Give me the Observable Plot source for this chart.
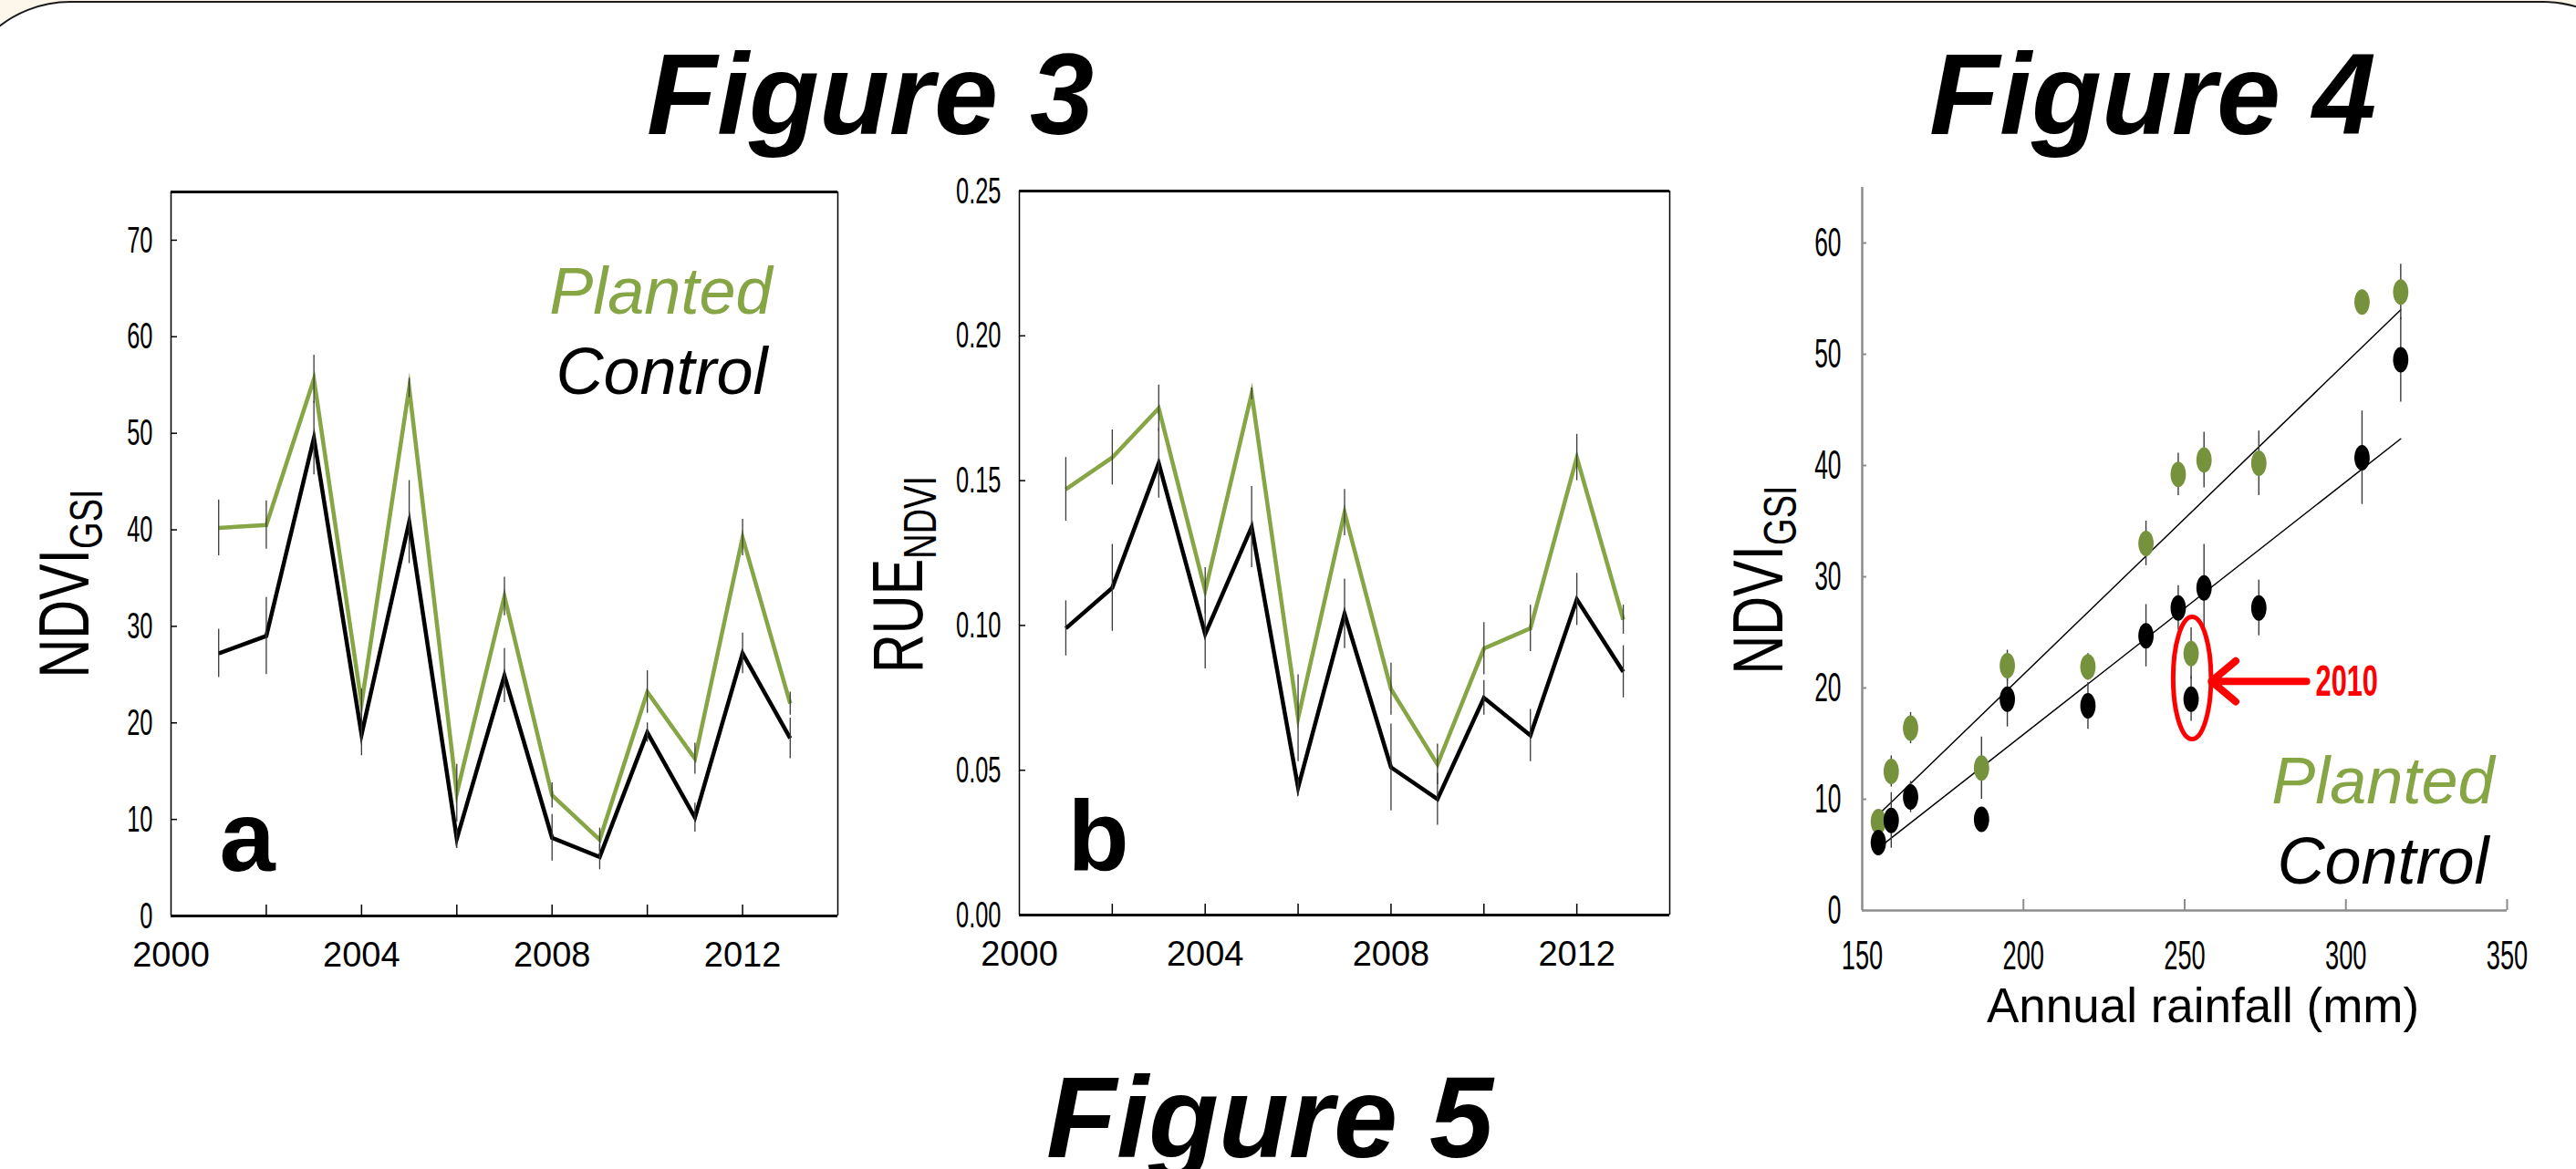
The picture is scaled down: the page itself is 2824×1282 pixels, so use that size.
<!DOCTYPE html>
<html><head><meta charset="utf-8">
<script src="https://cdn.jsdelivr.net/npm/d3@7"></script>
<script src="https://cdn.jsdelivr.net/npm/@observablehq/plot@0.6"></script>
<style>
html,body{margin:0;padding:0;}
body{width:2824px;height:1282px;overflow:hidden;position:relative;background:#fdf6ea;font-family:'Liberation Sans',Arial,Helvetica,sans-serif;}
#sheet{position:absolute;left:-50px;top:1px;width:2961px;height:1600px;border:2px solid #1a1a1a;border-radius:127px;background:#fff;}
.abs{position:absolute;white-space:nowrap;line-height:1;}
</style></head><body>
<div id="sheet"></div>
<script>
// ---------- data ----------
const years = [2001, 2002, 2003, 2004, 2005, 2006, 2007, 2008, 2009, 2010, 2011, 2012, 2013];
const ndviPlanted    = [40.2, 40.5, 55.6, 22.0, 54.7, 12.7, 33.1, 12.5, 7.9, 23.2, 16.3, 39.2, 22.0];
const ndviPlantedErr = [2.9, 2.5, 2.5, 1.5, 1.0, 3.0, 2.0, 1.3, 1.2, 2.2, 1.6, 1.9, 1.2];
const ndviControl    = [27.2, 29.0, 49.5, 18.8, 40.8, 8.0, 24.9, 8.1, 6.1, 19.0, 10.2, 27.2, 18.4];
const ndviControlErr = [2.5, 4.0, 3.8, 2.2, 4.3, 1.0, 2.8, 2.4, 1.3, 1.0, 1.5, 2.1, 2.1];

const ruePlanted    = [0.147, 0.158, 0.175, 0.112, 0.180, 0.068, 0.139, 0.078, 0.052, 0.092, 0.099, 0.158, 0.102];
const ruePlantedErr = [0.011, 0.0095, 0.008, 0.008, 0.002, 0.015, 0.008, 0.009, 0.007, 0.009, 0.008, 0.008, 0.005];
const rueControl    = [0.099, 0.113, 0.156, 0.097, 0.134, 0.044, 0.104, 0.051, 0.040, 0.075, 0.062, 0.109, 0.084];
const rueControlErr = [0.0095, 0.015, 0.012, 0.012, 0.014, 0.003, 0.012, 0.015, 0.009, 0.006, 0.009, 0.009, 0.009];

const rainfall        = [155, 159, 165, 187, 195, 220, 238, 248, 252, 256, 273, 305, 317];
const rainPlanted     = [8.0, 12.5, 16.4, 12.8, 22.0, 21.9, 33.0, 39.2, 23.1, 40.5, 40.2, 54.7, 55.6];
const rainPlantedErr  = [0.8, 1.4, 1.4, 2.8, 1.4, 1.2, 2.0, 1.9, 2.3, 2.5, 2.9, 0.8, 2.5];
const rainControl     = [6.1, 8.1, 10.2, 8.2, 19.0, 18.4, 24.7, 27.2, 19.0, 29.0, 27.2, 40.7, 49.5];
const rainControlErr  = [1.0, 2.5, 1.4, 0.5, 2.5, 2.1, 2.8, 2.0, 2.0, 3.9, 2.5, 4.2, 3.8];
const fitRain    = [155, 317];
const fitPlanted = [8.6, 54.0];
const fitControl = [5.6, 42.4];

const noteLabel = ["2010"];
const noteRain = [252.3];
const noteNdvi = [20.9];
const arrowFromRain = [287.8];
const arrowToRain = [258.3];
const arrowNdvi = [20.6];

const seriesNames = ["Planted", "Control"];
const yearLabelTicks = [2000, 2004, 2008, 2012];
const yearMarkTicks = [2002, 2004, 2006, 2008, 2010, 2012];
const ndviTicks = [0, 10, 20, 30, 40, 50, 60, 70];
const rueTicks = [0, 0.05, 0.10, 0.15, 0.20, 0.25];
const rainTicks = [150, 200, 250, 300, 350];
const fig4Ticks = [0, 10, 20, 30, 40, 50, 60];

// ---------- helpers ----------
const FONT = "'Liberation Sans', Arial, Helvetica, sans-serif";
const GREEN = "#86a545";
const GREEN_DOT = "#76923c";
const ERR = "#3a3a3a";
const GRAY = "#8c8c8c";

function box(f, m) {
  return {width: f.R - f.L + m.l + m.r, height: f.B - f.T + m.t + m.b,
    marginLeft: m.l, marginRight: m.r, marginTop: m.t, marginBottom: m.b,
    left: f.L - m.l, top: f.T - m.t};
}
function place(svg, b) {
  svg.style.position = "absolute";
  svg.style.left = b.left + "px";
  svg.style.top = b.top + "px";
  document.body.appendChild(svg);
}
function condense(svg, label, sx) {
  svg.querySelectorAll(`g[aria-label="${label}"] text`).forEach(t => {
    t.setAttribute("transform", (t.getAttribute("transform") || "") + ` scale(${sx},1)`);
  });
}
function condenseText(svg, content, sx) {
  svg.querySelectorAll("text").forEach(t => {
    if (t.textContent === content) t.setAttribute("transform", (t.getAttribute("transform") || "") + ` scale(${sx},1)`);
  });
}
function addText(html, o) {
  const d = document.createElement("div");
  d.className = "abs";
  d.innerHTML = html;
  d.style.fontSize = o.size + "px";
  d.style.fontWeight = o.weight || "normal";
  d.style.fontStyle = o.style || "normal";
  d.style.color = o.color || "#000";
  d.style.top = (o.baseline - 0.8465 * o.size) + "px";
  d.style.left = o.x + "px";
  d.style.transform = "translateX(-50%)";
  document.body.appendChild(d);
}
function addRotated(main, sub, o) {
  const d = document.createElement("div");
  d.className = "abs";
  d.style.fontSize = o.size + "px";
  d.style.left = o.cx + "px";
  d.style.top = o.cy + "px";
  d.style.transform = `translate(-50%,-50%) rotate(-90deg) scaleX(${o.sx})`;
  d.innerHTML = `${main}<span style="font-size:${o.sub}px;position:relative;top:${o.drop}px">${sub}</span>`;
  document.body.appendChild(d);
}
function ellipseSymbol(ratio) {
  return {draw(ctx, size) {
    const ry = Math.sqrt(size / Math.PI), rx = ry * ratio, k = 0.5523;
    ctx.moveTo(rx, 0);
    ctx.bezierCurveTo(rx, ry * k, rx * k, ry, 0, ry);
    ctx.bezierCurveTo(-rx * k, ry, -rx, ry * k, -rx, 0);
    ctx.bezierCurveTo(-rx, -ry * k, -rx * k, -ry, 0, -ry);
    ctx.bezierCurveTo(rx * k, -ry, rx, -ry * k, rx, 0);
    ctx.closePath();
  }};
}
const style = {fontFamily: FONT, fontSize: "36px", color: "#000", background: "transparent", overflow: "visible"};

function timePanel(frame, values, yDomain, yTicks, yFmt, letter, extra) {
  const b = box(frame, {l: 150, r: 30, t: 20, b: 90});
  const [p, pe, c, ce] = values;
  const planted = years.map((yr, i) => ({year: yr, v: p[i], e: pe[i]}));
  const control = years.map((yr, i) => ({year: yr, v: c[i], e: ce[i]}));
  const svg = Plot.plot({
    width: b.width, height: b.height,
    marginLeft: b.marginLeft, marginRight: b.marginRight, marginTop: b.marginTop, marginBottom: b.marginBottom,
    style,
    x: {domain: [2000, 2014], label: null},
    y: {domain: yDomain, label: null},
    marks: [
      Plot.axisX(yearLabelTicks, {tickSize: 0, tickPadding: 29, fontSize: 38, tickFormat: d => String(d)}),
      Plot.axisX(yearMarkTicks, {tickSize: 12, dy: -12, tickFormat: () => "", strokeWidth: 1.5}),
      Plot.axisY(yTicks, {tickSize: 0, tickPadding: 20, fontSize: 41, tickFormat: yFmt}),
      Plot.axisY(yTicks, {tickSize: 7, dx: 7, tickFormat: () => "", strokeWidth: 1.5}),
      Plot.ruleX([2000, 2014], {stroke: "#000", strokeWidth: 1.5}),
      Plot.ruleY(yDomain, {stroke: "#000", strokeWidth: 3}),
      Plot.line(planted, {x: "year", y: "v", stroke: GREEN, strokeWidth: 4.5, strokeLinejoin: "miter", strokeMiterlimit: 10, strokeLinecap: "butt"}),
      Plot.line(control, {x: "year", y: "v", stroke: "#000", strokeWidth: 4.5, strokeLinejoin: "miter", strokeMiterlimit: 10, strokeLinecap: "butt"}),
      Plot.ruleX(planted, {x: "year", y1: d => d.v - d.e, y2: d => d.v + d.e, stroke: ERR, strokeWidth: 1.3}),
      Plot.ruleX(control, {x: "year", y1: d => d.v - d.e, y2: d => d.v + d.e, stroke: ERR, strokeWidth: 1.3}),
      Plot.text([letter], {frameAnchor: "bottom-left", textAnchor: "start", lineAnchor: "bottom", dx: 53, dy: -50, fontSize: 110, fontWeight: "bold", fill: "#000"}),
      ...extra
    ]
  });
  condense(svg, "y-axis tick label", 0.62);
  place(svg, b);
  return svg;
}

// ---------- panel a ----------
timePanel({L: 187, T: 210, R: 918, B: 1004},
  [ndviPlanted, ndviPlantedErr, ndviControl, ndviControlErr], [0, 75], ndviTicks, d => String(d), "a",
  [
    Plot.text([seriesNames[0]], {frameAnchor: "top-right", textAnchor: "end", lineAnchor: "bottom", dx: -72, dy: 133, fontSize: 72, fontStyle: "italic", fill: GREEN}),
    Plot.text([seriesNames[1]], {frameAnchor: "top-right", textAnchor: "end", lineAnchor: "bottom", dx: -77, dy: 221, fontSize: 72, fontStyle: "italic", fill: "#000"})
  ]);

// ---------- panel b ----------
timePanel({L: 1117, T: 209, R: 1830, B: 1003},
  [ruePlanted, ruePlantedErr, rueControl, rueControlErr], [0, 0.25], rueTicks, d3.format(".2f"), "b", []);

// ---------- panel c (Figure 4) ----------
(function () {
  const frame = {L: 2041, T: 205, R: 2748, B: 998};
  const b = box(frame, {l: 160, r: 40, t: 20, b: 150});
  const planted = rainfall.map((r, i) => ({rain: r, v: rainPlanted[i], e: rainPlantedErr[i]}));
  const control = rainfall.map((r, i) => ({rain: r, v: rainControl[i], e: rainControlErr[i]}));
  const fitP = fitRain.map((r, i) => ({rain: r, v: fitPlanted[i]}));
  const fitC = fitRain.map((r, i) => ({rain: r, v: fitControl[i]}));
  const note = noteLabel.map((t, i) => ({label: t, rain: noteRain[i], v: noteNdvi[i], from: arrowFromRain[i], to: arrowToRain[i], y: arrowNdvi[i]}));
  const svg = Plot.plot({
    width: b.width, height: b.height,
    marginLeft: b.marginLeft, marginRight: b.marginRight, marginTop: b.marginTop, marginBottom: b.marginBottom,
    style,
    x: {domain: [150, 350], label: null},
    y: {domain: [0, 65], label: null},
    marks: [
      Plot.axisX(rainTicks, {tickSize: 0, tickPadding: 33, fontSize: 44}),
      Plot.axisX(rainTicks.slice(1), {tickSize: 12, dy: -12, tickFormat: () => "", stroke: GRAY, strokeWidth: 2}),
      Plot.axisY(fig4Ticks, {tickSize: 0, tickPadding: 23, fontSize: 44}),
      Plot.axisY(fig4Ticks.slice(1), {tickSize: 5, dx: 5, tickFormat: () => "", stroke: GRAY, strokeWidth: 2}),
      Plot.ruleY([0], {x1: 150, x2: 350, stroke: GRAY, strokeWidth: 2.5}),
      Plot.ruleX([150], {y1: 0, y2: 65, stroke: GRAY, strokeWidth: 2.5}),
      Plot.line(fitP, {x: "rain", y: "v", stroke: "#000", strokeWidth: 1.5}),
      Plot.line(fitC, {x: "rain", y: "v", stroke: "#000", strokeWidth: 1.5}),
      Plot.ruleX(planted, {x: "rain", y1: d => d.v - d.e, y2: d => d.v + d.e, stroke: ERR, strokeWidth: 1.4}),
      Plot.ruleX(control, {x: "rain", y1: d => d.v - d.e, y2: d => d.v + d.e, stroke: ERR, strokeWidth: 1.4}),
      Plot.dot(planted, {x: "rain", y: "v", r: 14, symbol: ellipseSymbol(0.6), fill: GREEN_DOT, stroke: "none"}),
      Plot.dot(control, {x: "rain", y: "v", r: 14, symbol: ellipseSymbol(0.6), fill: "#000", stroke: "none"}),
      Plot.dot(note, {x: "rain", y: "v", r: 67, symbol: ellipseSymbol(0.31), fill: "none", stroke: "#ff0000", strokeWidth: 5}),
      Plot.arrow(note, {x1: "from", x2: "to", y1: "y", y2: "y", stroke: "#ff0000", strokeWidth: 8, headLength: 30, headAngle: 80}),
      Plot.text(note, {x: "from", y: "y", text: "label", textAnchor: "start", lineAnchor: "middle", dx: 10, fontSize: 48, fontWeight: "bold", fill: "#ff0000"}),
      Plot.text([seriesNames[0]], {frameAnchor: "bottom-right", textAnchor: "end", lineAnchor: "bottom", dx: -14, dy: -118, fontSize: 72, fontStyle: "italic", fill: GREEN}),
      Plot.text([seriesNames[1]], {frameAnchor: "bottom-right", textAnchor: "end", lineAnchor: "bottom", dx: -20, dy: -30, fontSize: 72, fontStyle: "italic", fill: "#000"}),
      Plot.text(["Annual rainfall (mm)"], {frameAnchor: "bottom", textAnchor: "middle", lineAnchor: "bottom", dx: 20, dy: 122, fontSize: 53, fill: "#000"})
    ]
  });
  condense(svg, "y-axis tick label", 0.6);
  condense(svg, "x-axis tick label", 0.62);
  condenseText(svg, noteLabel[0], 0.64);
  place(svg, b);
})();

// ---------- titles ----------
addText("Figure 3", {x: 954, baseline: 148, size: 126, weight: "bold", style: "italic"});
addText("Figure 4", {x: 2360, baseline: 148, size: 126, weight: "bold", style: "italic"});
addText("Figure 5", {x: 1392, baseline: 1270, size: 126, weight: "bold", style: "italic"});
addRotated("NDVI", "GSI", {cx: 70, cy: 640, size: 78, sub: 50, drop: 15, sx: 0.76});
addRotated("RUE", "NDVI", {cx: 984, cy: 630, size: 78, sub: 50, drop: 15, sx: 0.76});
addRotated("NDVI", "GSI", {cx: 1927, cy: 636, size: 78, sub: 50, drop: 15, sx: 0.76});
</script></body></html>
